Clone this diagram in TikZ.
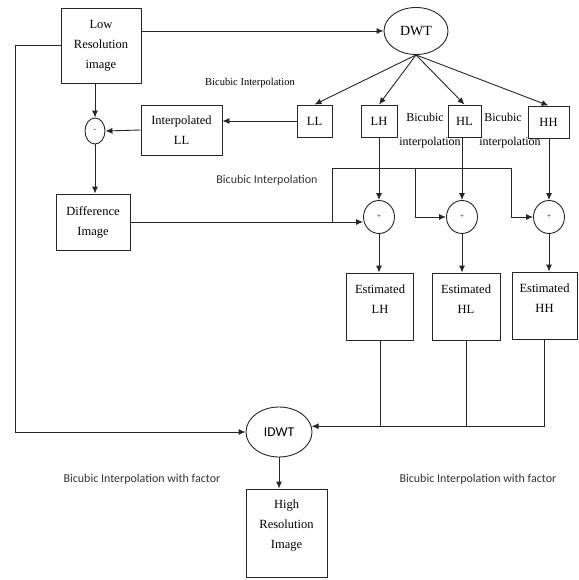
\documentclass[tikz,border=0pt]{standalone}
\usepackage{fontspec}
\setmainfont{Liberation Serif}
\newfontfamily\calibri{Carlito}
\usetikzlibrary{arrows.meta,shapes.geometric}

\begin{document}
\begin{tikzpicture}[x=1pt,y=-1pt,
        >={Latex[length=7pt,width=6pt]},
        line width=0.9pt, draw=black!85,
        blk/.style={draw, align=center, inner sep=1pt, font=\fontsize{12.5}{20}\selectfont},
        oval/.style={draw, ellipse, inner sep=0pt},
        sumnode/.style={draw, ellipse, inner sep=0pt, minimum width=31, minimum height=33, font=\scriptsize},
        lbl/.style={font=\fontsize{12}{12}\selectfont},
        slbl/.style={font=\calibri\fontsize{12}{12}\selectfont, text=black!80}]
        % frame
        \useasboundingbox (0,0) rectangle (578,580);

        % blocks
        \node[blk, minimum width=80, minimum height=75] (lri) at (101,45.5) {Low\\Resolution\\image};
        \node[oval, minimum width=64, minimum height=47, font=\fontsize{14}{15}\selectfont] (dwt) at (416,31) {DWT};
        \node[blk, minimum width=35, minimum height=32] (ll) at (314.5,121) {LL};
        \node[blk, minimum width=36, minimum height=32] (lh) at (379,121) {LH};
        \node[blk, minimum width=33, minimum height=32] (hl) at (464.5,121) {HL};
        \node[blk, minimum width=41, minimum height=32] (hh) at (548.5,122) {HH};
        \node[blk, minimum width=81, minimum height=50] (intll) at (181.5,130) {Interpolated\\LL};
        \node[sumnode, minimum width=20, minimum height=26] (minus) at (95,131) {-};
        \node[blk, minimum width=74, minimum height=56] (diff) at (93,222) {Difference\\Image};
        \node[sumnode] (plh) at (379,217) {+};
        \node[sumnode] (phl) at (462,217) {+};
        \node[sumnode] (phh) at (549,217) {+};
        \node[blk, minimum width=67, minimum height=67, text depth=14pt] (estlh) at (380,306.5) {Estimated\\LH};
        \node[blk, minimum width=68, minimum height=67, text depth=14pt] (esthl) at (466,306.5) {Estimated\\HL};
        \node[blk, minimum width=65, minimum height=67, text depth=14pt] (esthh) at (544.5,305.5) {Estimated\\HH};
        \node[oval, minimum width=66, minimum height=50, font=\calibri\fontsize{13.5}{14}\selectfont] (idwt) at (279,432) {IDWT};
        \node[blk, minimum width=81, minimum height=88, text depth=17pt] (hri) at (286.5,533) {High\\Resolution\\Image};

        % labels
        \node[lbl, font=\fontsize{10.5}{12}\selectfont] (bi1) at (250,83) {Bicubic Interpolation};
        \node[slbl] (bi2) at (267,180) {Bicubic Interpolation};
        \node[lbl] (bi3) at (425,117) {Bicubic};
        \node[lbl] (bi4) at (430,143) {interpolation};
        \node[lbl] (bi5) at (503,117) {Bicubic};
        \node[lbl] (bi6) at (510,143) {interpolation};
        \node[slbl] (bf1) at (142,479) {Bicubic Interpolation with factor};
        \node[slbl] (bf2) at (478,479) {Bicubic Interpolation with factor};

        % decomposition
        \draw[->] (lri.east |- dwt.west) -- (dwt.west);
        \draw[->] (dwt.south) -- (ll.north);
        \draw[->] (dwt.south) -- (lh.north);
        \draw[->] (dwt.south) -- (hl.north);
        \draw[->] (dwt.south) -- (hh.north);

        % difference path
        \draw[->] (ll.west) -- (ll.west -| intll.east);
        \draw[->] (intll.west) -- (minus.east);
        \draw[->] (lri.south -| minus.north) -- (minus.north);
        \draw[->] (minus.south) -- (minus.south |- diff.north);
        \draw[->] (diff.east) -- (diff.east -| plh.west);

        % branch to the adders
        \coordinate (ba) at (332,168);
        \coordinate (bb) at (415,168);
        \coordinate (bc) at (511,168);
        \draw (diff.east -| ba) -- (ba) -- (bc);
        \draw[->] (bb) |- (phl.west);
        \draw[->] (bc) |- (phh.west);

        % high bands
        \draw[->] (lh.south) -- (plh.north);
        \draw[->] (hl.south -| phl.north) -- (phl.north);
        \draw[->] (hh.south -| phh.north) -- (phh.north);
        \draw[->] (plh.south) -- (plh.south |- estlh.north);
        \draw[->] (phl.south) -- (phl.south |- esthl.north);
        \draw[->] (phh.south) -- (phh.south |- esthh.north);

        % reconstruction
        \coordinate (lft) at (15,0);
        \draw[->] (lri.west) -| (lft |- idwt.west) -- (idwt.west);
        \draw (estlh.south) -- (estlh.south |- idwt.10);
        \draw (esthl.south) -- (esthl.south |- idwt.10);
        \draw[->] (esthh.south) |- (idwt.10);
        \draw[->] (idwt.south) -- (idwt.south |- hri.north);
    \end{tikzpicture}
\end{document}
